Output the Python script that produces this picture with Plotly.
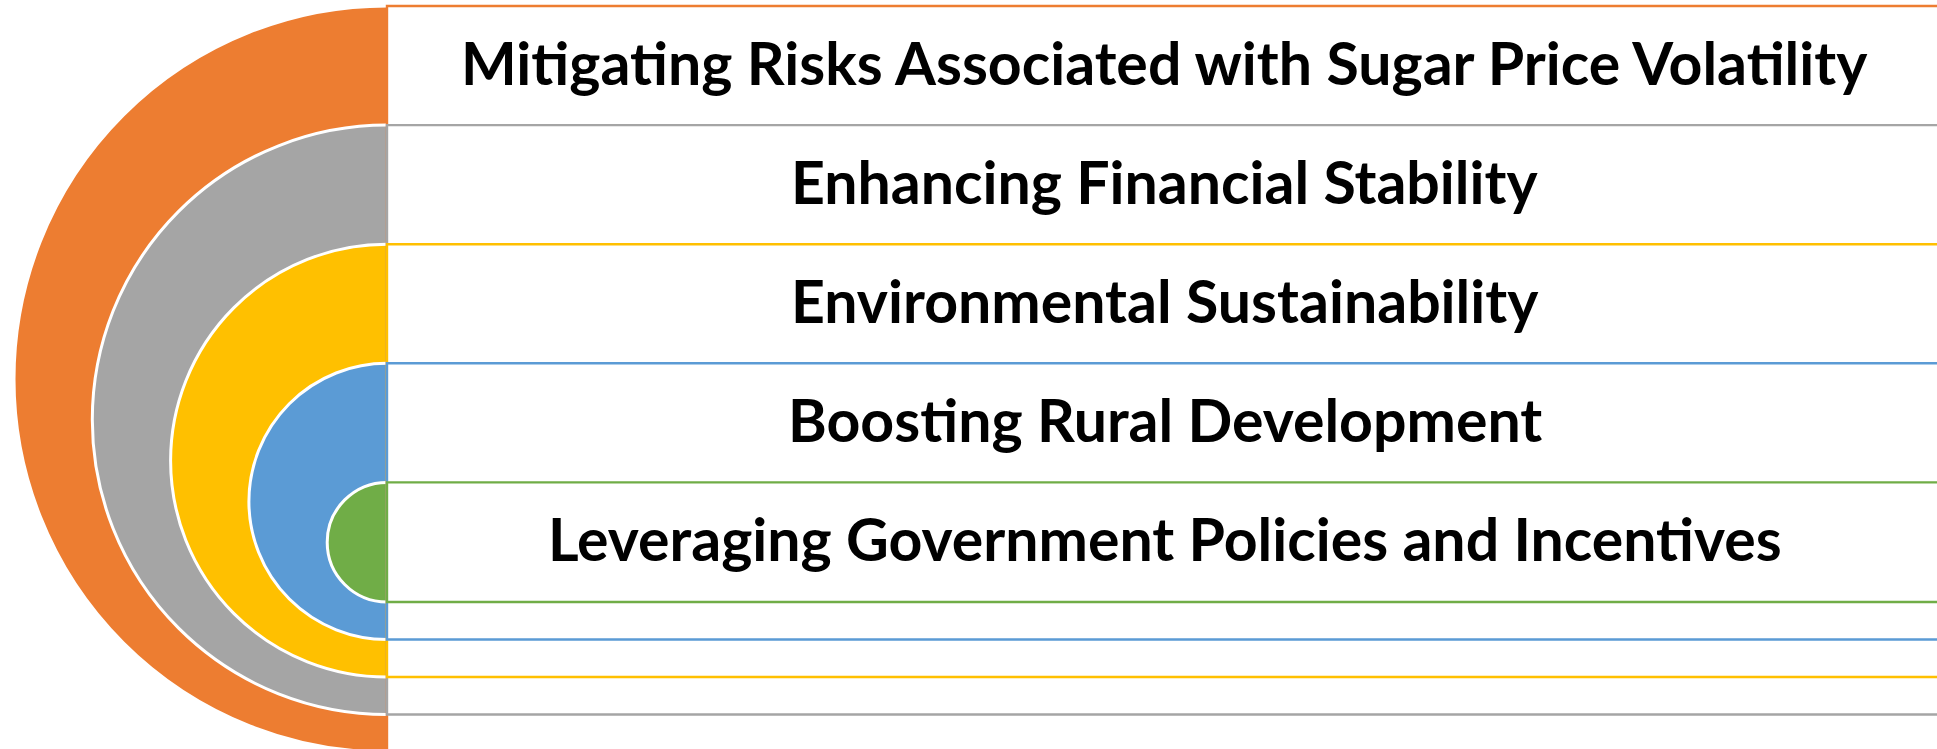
import plotly.graph_objects as go

# diagram content
labels = [
    "Mitigating Risks Associated with Sugar Price Volatility",
    "Enhancing Financial Stability",
    "Environmental Sustainability",
    "Boosting Rural Development",
    "Leveraging Government Policies and Incentives",
]
ring_colors = ["#ED7D31", "#A5A5A5", "#FFC000", "#5B9BD5", "#70AD47"]

W, H = 1937, 749
EDGE_X = 387          # straight edge of the half discs / left side of text boxes
TOP0, TOP_STEP = 6, 119.1
BOT0, BOT_STEP = 752, 37.5
BOX_RIGHT = 1942
TEXT_DY = -3

fig = go.Figure()
shapes = []
tops = [TOP0 + i * TOP_STEP for i in range(len(labels))]
bots = [BOT0 - i * BOT_STEP for i in range(len(labels))]

# half discs (full circles, right half covered by the boxes)
for t, b, c in zip(tops, bots, ring_colors):
    r = (b - t) / 2
    cy = (t + b) / 2
    shapes.append(dict(type="circle", xref="x", yref="y",
                       x0=EDGE_X - r, x1=EDGE_X + r, y0=cy - r, y1=cy + r,
                       fillcolor=c, line=dict(color="white", width=3), layer="above"))

# nested text boxes
for t, b, c in zip(tops, bots, ring_colors):
    shapes.append(dict(type="rect", xref="x", yref="y",
                       x0=EDGE_X, x1=BOX_RIGHT, y0=t, y1=b,
                       fillcolor="white", line=dict(color=c, width=2.4), layer="above"))

annotations = []
for i, lab in enumerate(labels):
    yc = tops[i] + TOP_STEP / 2 + TEXT_DY
    annotations.append(dict(x=(EDGE_X + BOX_RIGHT) / 2, y=yc, xref="x", yref="y",
                            text="<b>" + lab + "</b>", showarrow=False,
                            font=dict(family="Lato", size=59, color="black"),
                            xanchor="center", yanchor="middle"))

fig.update_layout(
    width=W, height=H,
    margin=dict(l=0, r=0, t=0, b=0),
    paper_bgcolor="white", plot_bgcolor="white",
    xaxis=dict(range=[0, W], visible=False, fixedrange=True),
    yaxis=dict(range=[H, 0], visible=False, fixedrange=True),
    shapes=shapes, annotations=annotations,
    showlegend=False,
)

# drop the default page margin so the figure sits at the window origin
fig.write_html("out.html", config={"displayModeBar": False},
               post_script="document.body.style.margin='0';document.documentElement.style.overflow='hidden';")
